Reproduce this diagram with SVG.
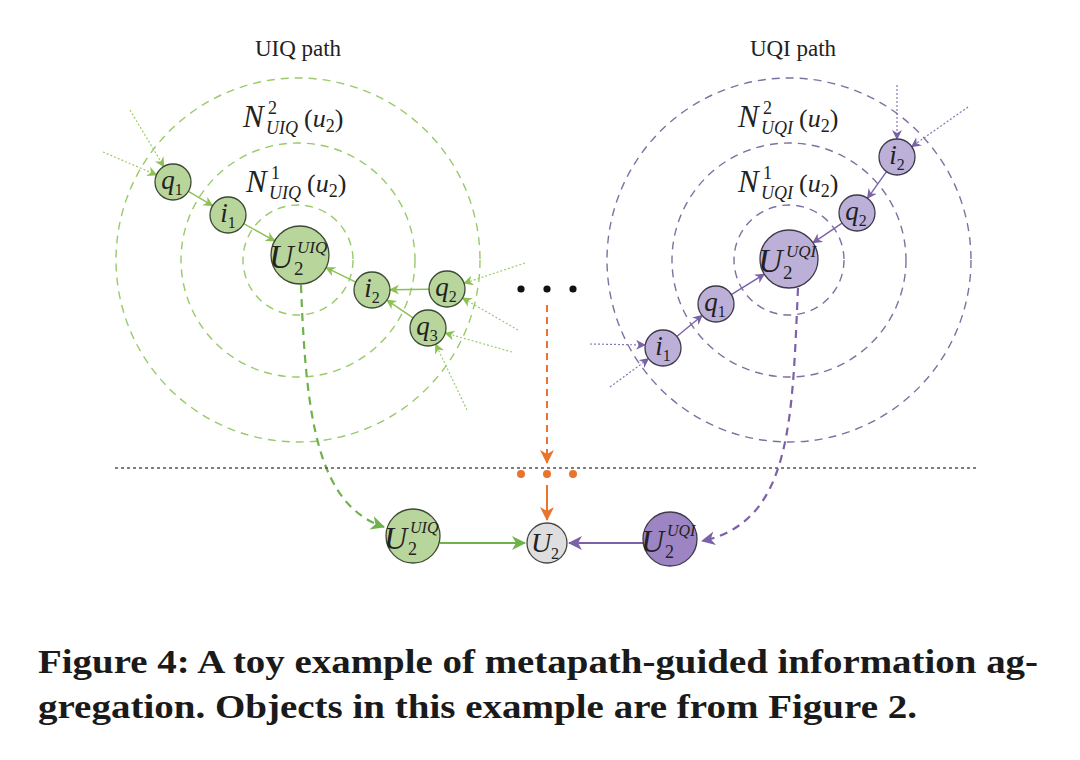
<svg xmlns="http://www.w3.org/2000/svg" width="1080" height="760" viewBox="0 0 1080 760">
<style>
  .serif{font-family:"Liberation Serif","Times New Roman",serif;fill:#222}
  .it{font-style:italic}
  .title{font-size:23px}
  .math{font-size:26px}
  .bigN{font-size:31px;font-style:italic}
  .sm{font-size:18px}
  .lbl{font-size:27px;font-style:italic}
  .lsub{font-size:16px;font-style:normal}
  .gcirc{fill:none;stroke:#98ca6a;stroke-width:1.4;stroke-dasharray:8 6}
  .pcirc{fill:none;stroke:#7f70a0;stroke-width:1.4;stroke-dasharray:8 6}
  .gnode{fill:#b8d59b;stroke:#3c4a33;stroke-width:1.3}
  .pnode{fill:#bdb0d8;stroke:#3e3a4a;stroke-width:1.3}
  .pdark{fill:#9c85c2;stroke:#3e3a4a;stroke-width:1.3}
  .gray{fill:#dedede;stroke:#444;stroke-width:1.3}
  .ga{stroke:#8cc152;stroke-width:1.4;fill:none;marker-end:url(#mg)}
  .gd{stroke:#9ccc6a;stroke-width:1.2;fill:none;stroke-dasharray:2 2;marker-end:url(#mg)}
  .pa{stroke:#7b62a8;stroke-width:1.4;fill:none;marker-end:url(#mp)}
  .pd{stroke:#8a75b5;stroke-width:1.2;fill:none;stroke-dasharray:2 2;marker-end:url(#mp)}
  .cap{font-family:"Liberation Serif","Times New Roman",serif;font-weight:bold;font-size:34px;fill:#1a1a1a}
</style>
<defs>
  <marker id="mg" markerUnits="userSpaceOnUse" markerWidth="12" markerHeight="12" refX="9" refY="5" orient="auto"><path d="M0,0 L10,5 L0,10 L3,5 Z" fill="#8cc152"/></marker>
  <marker id="mp" markerUnits="userSpaceOnUse" markerWidth="12" markerHeight="12" refX="9" refY="5" orient="auto"><path d="M0,0 L10,5 L0,10 L3,5 Z" fill="#7b62a8"/></marker>
  <marker id="mgB" markerUnits="userSpaceOnUse" markerWidth="16" markerHeight="16" refX="13" refY="7" orient="auto"><path d="M0,0 L14,7 L0,14 L4,7 Z" fill="#6fb24a"/></marker>
  <marker id="mpB" markerUnits="userSpaceOnUse" markerWidth="16" markerHeight="16" refX="13" refY="7" orient="auto"><path d="M0,0 L14,7 L0,14 L4,7 Z" fill="#7b62a8"/></marker>
  <marker id="mo" markerUnits="userSpaceOnUse" markerWidth="16" markerHeight="16" refX="13" refY="7" orient="auto"><path d="M0,0 L14,7 L0,14 L4,7 Z" fill="#e8742d"/></marker>
</defs>
<rect width="1080" height="760" fill="#ffffff"/>

<!-- titles -->
<text class="serif title" x="298" y="56" text-anchor="middle">UIQ path</text>
<text class="serif title" x="793" y="56" text-anchor="middle">UQI path</text>

<!-- neighbourhood rings -->
<g id="rings-left">
  <circle class="gcirc" cx="298" cy="260" r="55"/>
  <circle class="gcirc" cx="298" cy="260" r="117"/>
  <circle class="gcirc" cx="298" cy="260" r="182"/>
</g>
<g id="rings-right">
  <circle class="pcirc" cx="789" cy="260" r="55"/>
  <circle class="pcirc" cx="789" cy="260" r="117"/>
  <circle class="pcirc" cx="789" cy="260" r="182"/>
</g>

<!-- ring labels -->
<g id="label-n2-uiq"><text class="serif math" y="127"><tspan x="243" class="bigN">N</tspan><tspan x="268" y="114" class="sm">2</tspan><tspan x="266" y="134" class="sm it">UIQ</tspan><tspan x="304" y="127">(</tspan><tspan class="it">u</tspan><tspan class="sm" y="132">2</tspan><tspan y="127">)</tspan></text></g>
<g id="label-n1-uiq"><text class="serif math" y="192"><tspan x="246" class="bigN">N</tspan><tspan x="271" y="179" class="sm">1</tspan><tspan x="269" y="199" class="sm it">UIQ</tspan><tspan x="307" y="192">(</tspan><tspan class="it">u</tspan><tspan class="sm" y="197">2</tspan><tspan y="192">)</tspan></text></g>
<g id="label-n2-uqi"><text class="serif math" y="127"><tspan x="738" class="bigN">N</tspan><tspan x="763" y="114" class="sm">2</tspan><tspan x="761" y="134" class="sm it">UQI</tspan><tspan x="799" y="127">(</tspan><tspan class="it">u</tspan><tspan class="sm" y="132">2</tspan><tspan y="127">)</tspan></text></g>
<g id="label-n1-uqi"><text class="serif math" y="192"><tspan x="738" class="bigN">N</tspan><tspan x="763" y="179" class="sm">1</tspan><tspan x="761" y="199" class="sm it">UQI</tspan><tspan x="799" y="192">(</tspan><tspan class="it">u</tspan><tspan class="sm" y="197">2</tspan><tspan y="192">)</tspan></text></g>

<!-- connectors -->
<g id="connectors">
  <line class="ga" x1="188.5" y1="191.3" x2="212.5" y2="205.7"/>
  <line class="ga" x1="243.7" y1="223.7" x2="274.7" y2="240.9"/>
  <line class="ga" x1="355.8" y1="282.1" x2="326.1" y2="267.7"/>
  <line class="ga" x1="429" y1="289.2" x2="390" y2="289.8"/>
  <line class="ga" x1="413.1" y1="317.9" x2="386.9" y2="300.1"/>
  <line class="gd" x1="130" y1="110" x2="163.8" y2="166.6"/>
  <line class="gd" x1="103" y1="152" x2="156.5" y2="174.9"/>
  <line class="gd" x1="525" y1="263" x2="464.1" y2="283.3"/>
  <line class="gd" x1="518" y1="330" x2="462.6" y2="298"/>
  <line class="gd" x1="512" y1="352" x2="445.3" y2="333"/>
  <line class="gd" x1="467" y1="410" x2="435.7" y2="344.3"/>
  <line class="pa" x1="886.5" y1="171.7" x2="867.5" y2="198.3"/>
  <line class="pa" x1="842.1" y1="223.1" x2="813" y2="242.8"/>
  <line class="pa" x1="676.8" y1="336.5" x2="702.2" y2="315.5"/>
  <line class="pa" x1="731.3" y1="294.6" x2="764.3" y2="274.2"/>
  <line class="pd" x1="897" y1="85" x2="897" y2="139"/>
  <line class="pd" x1="968" y1="107" x2="911.7" y2="146.6"/>
  <line class="pd" x1="590" y1="344" x2="645" y2="345"/>
  <line class="pd" x1="610" y1="387" x2="648.5" y2="358.7"/>
  <path d="M301,285 C306,420 318,505 384,527" fill="none" stroke="#6fb24a" stroke-width="2.2" stroke-dasharray="8 6" marker-end="url(#mgB)"/>
  <path d="M798,288 C792,420 792,522 702,541" fill="none" stroke="#7b62a8" stroke-width="2.2" stroke-dasharray="8 6" marker-end="url(#mpB)"/>
  <line x1="547" y1="305" x2="547" y2="463" stroke="#e8742d" stroke-width="2" stroke-dasharray="7 5" marker-end="url(#mo)"/>
  <line x1="547" y1="485" x2="547" y2="520" stroke="#e8742d" stroke-width="2" marker-end="url(#mo)"/>
  <line x1="440" y1="543" x2="525" y2="543" stroke="#6fb24a" stroke-width="2" marker-end="url(#mgB)"/>
  <line x1="643" y1="543" x2="569" y2="543" stroke="#7b62a8" stroke-width="2" marker-end="url(#mpB)"/>
</g>

<!-- separator -->
<line x1="115" y1="468" x2="976" y2="468" stroke="#555" stroke-width="1.3" stroke-dasharray="3 3"/>

<!-- ellipsis dots -->
<g id="dots-black" fill="#111">
  <circle cx="521" cy="289" r="3.6"/><circle cx="547" cy="289" r="3.6"/><circle cx="573" cy="289" r="3.6"/>
</g>
<g id="dots-orange" fill="#e8742d">
  <circle cx="521" cy="474" r="4"/><circle cx="547" cy="474" r="4"/><circle cx="573" cy="474" r="4"/>
</g>

<!-- left nodes -->
<g id="L-q1"><circle class="gnode" cx="173" cy="182" r="18"/><text class="serif lbl" x="172" y="189" text-anchor="middle">q<tspan class="lsub" dy="6">1</tspan></text></g>
<g id="L-i1"><circle class="gnode" cx="228" cy="215" r="18"/><text class="serif lbl" x="228" y="222" text-anchor="middle">i<tspan class="lsub" dy="6">1</tspan></text></g>
<g id="L-i2"><circle class="gnode" cx="372" cy="290" r="18"/><text class="serif lbl" x="372" y="297" text-anchor="middle">i<tspan class="lsub" dy="6">2</tspan></text></g>
<g id="L-q2"><circle class="gnode" cx="447" cy="289" r="18"/><text class="serif lbl" x="446" y="296" text-anchor="middle">q<tspan class="lsub" dy="6">2</tspan></text></g>
<g id="L-q3"><circle class="gnode" cx="428" cy="328" r="18"/><text class="serif lbl" x="427" y="335" text-anchor="middle">q<tspan class="lsub" dy="6">3</tspan></text></g>
<g id="L-U2UIQ"><circle class="gnode" cx="300" cy="255" r="29"/>
  <text class="serif it" x="269" y="268" font-size="34">U</text>
  <text class="serif" x="294" y="275" font-size="19">2</text>
  <text class="serif it" x="297" y="253" font-size="17">UIQ</text></g>

<!-- right nodes -->
<g id="R-i2"><circle class="pnode" cx="897" cy="157" r="18"/><text class="serif lbl" x="897" y="164" text-anchor="middle">i<tspan class="lsub" dy="6">2</tspan></text></g>
<g id="R-q2"><circle class="pnode" cx="857" cy="213" r="18"/><text class="serif lbl" x="856" y="220" text-anchor="middle">q<tspan class="lsub" dy="6">2</tspan></text></g>
<g id="R-q1"><circle class="pnode" cx="716" cy="304" r="18"/><text class="serif lbl" x="715" y="311" text-anchor="middle">q<tspan class="lsub" dy="6">1</tspan></text></g>
<g id="R-i1"><circle class="pnode" cx="663" cy="348" r="18"/><text class="serif lbl" x="663" y="355" text-anchor="middle">i<tspan class="lsub" dy="6">1</tspan></text></g>
<g id="R-U2UQI"><circle class="pnode" cx="789" cy="259" r="29"/>
  <text class="serif it" x="758" y="272" font-size="34">U</text>
  <text class="serif" x="783" y="279" font-size="19">2</text>
  <text class="serif it" x="786" y="257" font-size="17">UQI</text></g>

<!-- bottom nodes -->
<g id="B-U2UIQ"><circle class="gnode" cx="413" cy="536" r="27"/>
  <text class="serif it" x="384" y="549" font-size="32">U</text>
  <text class="serif" x="408" y="555" font-size="18">2</text>
  <text class="serif it" x="410" y="533" font-size="16">UIQ</text></g>
<g id="B-U2"><circle class="gray" cx="547" cy="543" r="20"/>
  <text class="serif it" x="531" y="552" font-size="28">U</text>
  <text class="serif" x="551" y="559" font-size="16">2</text></g>
<g id="B-U2UQI"><circle class="pdark" cx="670" cy="539" r="27"/>
  <text class="serif it" x="641" y="552" font-size="32">U</text>
  <text class="serif" x="665" y="558" font-size="18">2</text>
  <text class="serif it" x="667" y="536" font-size="16">UQI</text></g>

<!-- caption -->
<text class="cap" x="38" y="673" textLength="1000" lengthAdjust="spacingAndGlyphs">Figure 4: A toy example of metapath-guided information ag-</text>
<text class="cap" x="38" y="718" textLength="879" lengthAdjust="spacingAndGlyphs">gregation. Objects in this example are from Figure 2.</text>
</svg>
